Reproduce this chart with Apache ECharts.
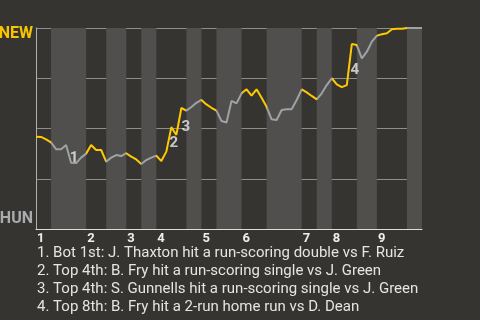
<!DOCTYPE html>
<html><head><meta charset="utf-8">
<script src="https://cdn.jsdelivr.net/npm/echarts@6/dist/echarts.min.js"></script>
<style>html,body{margin:0;padding:0;background:#363431;}#c{width:480px;height:320px;}</style>
</head><body><div id="c"></div>
<script>
// play index (x) -> win probability for NEW (0..100)
const winProb = [45.9,45.8,44.6,43.1,39.7,39.7,41.8,33.0,32.8,35.5,
  37.5,41.8,39.3,39.3,33.5,35.5,36.8,36.3,37.7,36.0,
  34.6,32.3,34.3,35.5,36.5,33.8,38.5,50.7,46.8,60.2,
  58.9,60.7,62.8,64.2,62.0,60.3,58.9,53.7,53.0,63.7,
  62.5,67.5,69.5,66.3,69.5,65.3,60.8,54.6,54.2,59.2,
  59.6,59.6,64.2,69.5,68.0,66.2,64.5,67.5,71.6,75.0,
  72.0,70.6,71.6,92.0,91.5,84.9,88.2,93.2,96.2,96.9,
  97.4,99.4,99.6,99.6,100,100,100,100];
// half-inning boundaries (play index)
const halfBounds = [0,3,10,14,18,21,24,30,33,36,41,46,53,56,59,64,68,74,77];
const innings = ['1','2','3','4','5','6','7','8','9'];
const inningStarts = [0,10,18,24,33,41,53,59,68];
const eventLabels = ['1','2','3','4'];
const eventX = [7.6,27.5,29.9,63.6];
const eventY = [35.1,42.5,50.5,79.1];
const teamTop = 'NEW', teamBottom = 'HUN';
const notes = [
  '1. Bot 1st: J. Thaxton hit a run-scoring double vs F. Ruiz',
  '2. Top 4th: B. Fry hit a run-scoring single vs J. Green',
  '3. Top 4th: S. Gunnells hit a run-scoring single vs J. Green',
  '4. Top 8th: B. Fry hit a 2-run home run vs D. Dean'
];

const YELLOW = '#ffc800', GRAY = '#9da2a5';
const pieces = [], bands = [];
for (let k = 0; k + 1 < halfBounds.length; k++) {
  if (k % 2 === 0) pieces.push({gte: halfBounds[k], lt: halfBounds[k+1], color: YELLOW});
  else bands.push([{xAxis: halfBounds[k]}, {xAxis: halfBounds[k+1]}]);
}

const chart = echarts.init(document.getElementById('c'), null, {renderer: 'canvas'});
chart.setOption({
  backgroundColor: '#363431',
  animation: false,
  title: {
    text: notes.join('\n'), left: 37, top: 244, padding: 0,
    textStyle: {fontFamily: 'Roboto', fontSize: 15, fontWeight: 'normal', color: '#e4e4e4', lineHeight: 18}
  },
  grid: {left: 36, right: 58, top: 28, bottom: 91, containLabel: false, outerBoundsMode: 'none'},
  xAxis: {
    type: 'value', min: 0, max: halfBounds[halfBounds.length-1],
    splitLine: {show: false},
    axisTick: {show: false},
    axisLine: {lineStyle: {color: '#dcdcdc', width: 1}},
    axisLabel: {
      customValues: inningStarts,
      formatter: v => innings[inningStarts.indexOf(v)] || '',
      align: 'left', margin: 3, padding: [0,0,0,1],
      color: '#eeeeee', fontFamily: 'Roboto', fontWeight: 'bold', fontSize: 13,
      showMinLabel: true, showMaxLabel: true, hideOverlap: false
    }
  },
  yAxis: {
    type: 'value', min: 0, max: 100, interval: 25,
    axisLine: {show: true, lineStyle: {color: '#b0b0b0', width: 1}},
    axisTick: {show: false},
    splitLine: {lineStyle: {color: '#8e8e8e', width: 1}},
    axisLabel: {
      margin: 3,
      formatter: v => v === 100 ? '{n|' + teamTop + '}' : (v === 0 ? '{h|' + teamBottom + '}' : ''),
      rich: {
        n: {color: '#f7c600', fontFamily: 'Roboto', fontWeight: 'bold', fontSize: 16, padding: [11,0,0,0]},
        h: {color: '#a8acae', fontFamily: 'Roboto', fontWeight: 'bold', fontSize: 16, padding: [0,0,20,0]}
      }
    }
  },
  visualMap: {
    show: false, type: 'piecewise', dimension: 0, seriesIndex: 1,
    pieces: pieces, outOfRange: {color: GRAY}
  },
  series: [
    {
      type: 'line', data: [], silent: true,
      markArea: {silent: true, itemStyle: {color: '#504f4d'}, data: bands}
    },
    {
      type: 'line', data: winProb.map((v, i) => [i, v]),
      showSymbol: false, symbol: 'none', lineStyle: {width: 2}, z: 3
    },
    {
      type: 'scatter', symbolSize: 0, z: 4,
      data: eventX.map((x, i) => [x, eventY[i], eventLabels[i]]),
      label: {
        show: true, position: 'inside', formatter: p => p.data[2],
        color: '#ececec', fontFamily: 'Roboto', fontWeight: 'bold', fontSize: 15
      }
    }
  ]
});
</script></body></html>
